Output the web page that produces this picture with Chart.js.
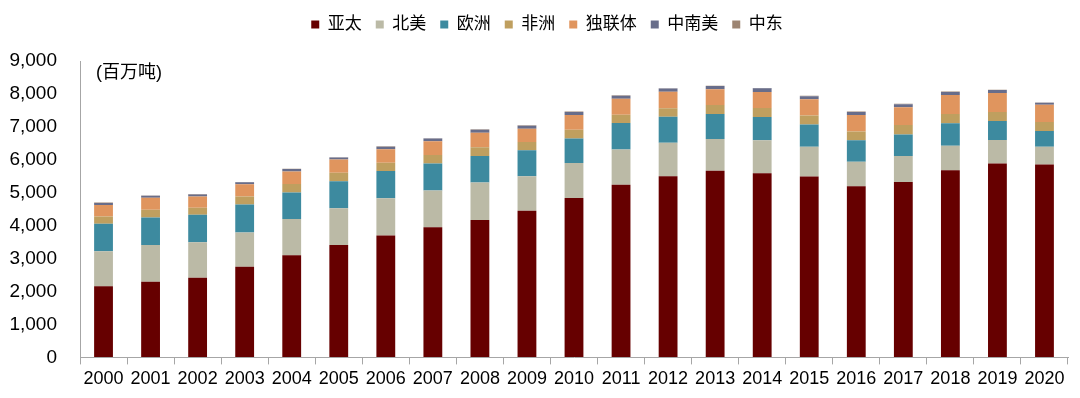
<!DOCTYPE html>
<html>
<head>
<meta charset="utf-8">
<script src="https://cdn.jsdelivr.net/npm/chart.js@4/dist/chart.umd.min.js"></script>
<style>
  html, body { margin: 0; padding: 0; background: #fff; }
  #wrap { width: 1080px; height: 398px; position: relative; }
</style>
</head>
<body>
<div id="wrap"><canvas id="coal-chart"></canvas></div>
<script>
// Coal production by region (million tonnes)
const years = ["2000", "2001", "2002", "2003", "2004", "2005", "2006", "2007", "2008", "2009", "2010",
  "2011", "2012", "2013", "2014", "2015", "2016", "2017", "2018", "2019", "2020"];

const asiaPacific = [2160, 2300, 2415, 2750, 3100, 3410, 3700, 3950, 4170, 4450, 4840,
  5240, 5500, 5665, 5595, 5495, 5195, 5325, 5680, 5890, 5860];
const northAmerica = [1060, 1110, 1080, 1040, 1100, 1120, 1130, 1120, 1140, 1050, 1060,
  1070, 1020, 970, 1000, 900, 745, 790, 745, 715, 535];
const europe = [835, 840, 835, 850, 810, 820, 827, 818, 807, 788, 748,
  807, 787, 757, 706, 679, 657, 657, 687, 576, 476];
const africa = [225, 230, 212, 242, 253, 253, 252, 261, 263, 252, 261,
  254, 261, 273, 273, 273, 264, 282, 282, 273, 273];
const cis = [350, 364, 345, 375, 384, 404, 410, 415, 445, 405, 455,
  485, 497, 476, 485, 494, 503, 545, 576, 576, 524];
const latinAmerica = [61, 61, 61, 61, 70, 61, 81, 81, 91, 91, 91,
  91, 100, 100, 112, 91, 91, 91, 91, 90, 61];
const middleEast = [10, 10, 10, 10, 10, 10, 10, 10, 10, 10, 10,
  10, 10, 10, 10, 10, 10, 10, 10, 10, 10];

const FONT = "'Liberation Sans', Arial, 'Noto Sans CJK SC', sans-serif";
const AXIS_COLOR = "#a6a6a6";

// Unit label inside the plot area
const unitLabel = {
  id: "unitLabel",
  afterDraw(chart) {
    const ctx = chart.ctx;
    const area = chart.chartArea;
    ctx.save();
    ctx.font = "18px " + FONT;
    ctx.fillStyle = "#000";
    ctx.textBaseline = "middle";
    ctx.fillText("(百万吨)", area.left + 16, area.top + 12);
    ctx.restore();
  },
};

// Extra room under the legend, and nudge it a little to the right
const legendSpace = {
  id: "legendSpace",
  beforeInit(chart) {
    const fit = chart.legend.fit;
    chart.legend.fit = function () {
      fit.bind(chart.legend)();
      this.height += 18;
    };
  },
  afterLayout(chart) {
    chart.legend.left += 11;
    chart.legend.right += 11;
  },
};

function makeSet(label, data, color) {
  return {
    label: label,
    data: data,
    backgroundColor: color,
    borderWidth: 0,
    categoryPercentage: 1,
    barPercentage: 0.4,
  };
}

new Chart(document.getElementById("coal-chart"), {
  type: "bar",
  data: {
    labels: years,
    datasets: [
      makeSet("亚太", asiaPacific, "#660000"),
      makeSet("北美", northAmerica, "#bbbaa6"),
      makeSet("欧洲", europe, "#3d8a9f"),
      makeSet("非洲", africa, "#bf9f5f"),
      makeSet("独联体", cis, "#e0955e"),
      makeSet("中南美", latinAmerica, "#686d8a"),
      makeSet("中东", middleEast, "#9c8472"),
    ],
  },
  options: {
    responsive: true,
    maintainAspectRatio: false,
    animation: false,
    layout: { padding: { left: 4, right: 12, top: 2, bottom: 4 } },
    plugins: {
      legend: {
        position: "top",
        labels: {
          boxWidth: 8,
          boxHeight: 8,
          padding: 14,
          color: "#000",
          font: { family: FONT, size: 17 },
        },
      },
      tooltip: { enabled: false },
    },
    scales: {
      x: {
        stacked: true,
        border: { color: AXIS_COLOR },
        grid: { drawOnChartArea: false, tickLength: 7, color: AXIS_COLOR },
        ticks: { color: "#000", font: { family: FONT, size: 18 }, maxRotation: 0, padding: 4 },
      },
      y: {
        stacked: true,
        min: 0,
        max: 9000,
        afterFit(scale) {
          scale.width = 76;
        },
        border: { color: AXIS_COLOR },
        grid: { drawOnChartArea: false, drawTicks: false },
        ticks: { stepSize: 1000, color: "#000", font: { family: FONT, size: 19 }, padding: 23 },
      },
    },
  },
  plugins: [unitLabel, legendSpace],
});
</script>
</body>
</html>
